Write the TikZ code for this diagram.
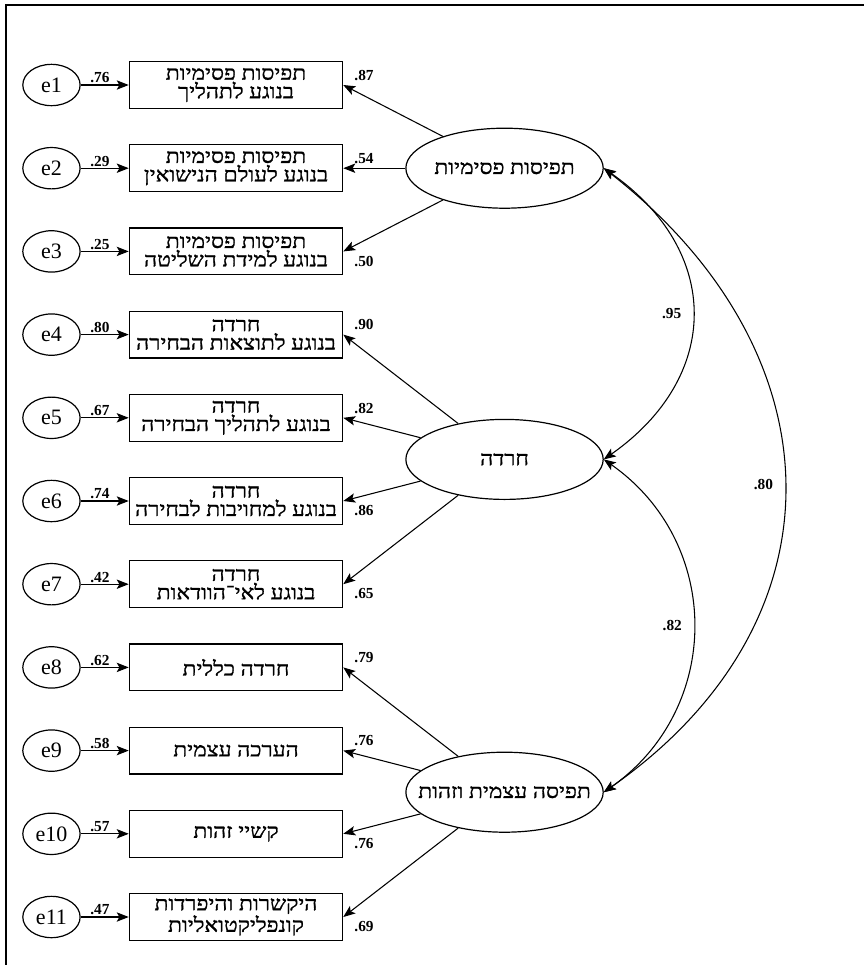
\documentclass[tikz,border=0pt]{standalone}
\usepackage{fontspec}
\usepackage{graphicx}
\setmainfont{Liberation Serif}
\newfontfamily\hebfont[Script=Hebrew,FakeBold=1.2]{Liberation Serif}
\TeXXeTstate=1
\usetikzlibrary{arrows.meta,positioning,calc,shapes.geometric}
\newcommand{\heb}[1]{\scalebox{1.14}[1]{\hebfont\beginR #1\endR}}

\begin{document}
\begin{tikzpicture}[
  node distance=26.5pt and 36pt,
  obs/.style={draw,line width=0.9pt,minimum width=160pt,minimum height=35pt,inner sep=1pt,align=center,font=\fontsize{15}{13.8}\selectfont},
  err/.style={draw,ellipse,line width=0.9pt,minimum width=43pt,minimum height=31pt,inner sep=0pt,font=\fontsize{16.5}{18}\selectfont},
  lat/.style={draw,ellipse,line width=0.9pt,minimum width=148pt,minimum height=60pt,inner sep=0pt,font=\fontsize{15}{16}\selectfont},
  arr/.style={-{Stealth[length=9pt,width=7pt,inset=2pt]},line width=0.8pt},
  cov/.style={{Stealth[length=9pt,width=7pt,inset=2pt]}-{Stealth[length=9pt,width=7pt,inset=2pt]},line width=0.8pt},
  coef/.style={font=\bfseries\fontsize{11.5}{13}\selectfont,inner sep=1pt},
  uplbl/.style={coef,at end,anchor=south west,xshift=7pt,yshift=2pt},
  dnlbl/.style={coef,at end,anchor=north west,xshift=7pt,yshift=-2pt},
  errlbl/.style={coef,above,pos=0.4,yshift=0pt}
]
\useasboundingbox (0,0) rectangle (648pt,-723.75pt);
\draw[line width=1.2pt] (4.5pt,-723.75pt) -- (4.5pt,-3.75pt) -- (648pt,-3.75pt);

% observed indicators
\node[obs] (b1) at (177pt,-63.75pt) {\heb{תפיסות פסימיות}\\\heb{בנוגע לתהליך}};
\node[obs,below=of b1] (b2) {\heb{תפיסות פסימיות}\\\heb{בנוגע לעולם הנישואין}};
\node[obs,below=of b2] (b3) {\heb{תפיסות פסימיות}\\\heb{בנוגע למידת השליטה}};
\node[obs,below=of b3] (b4) {\heb{חרדה}\\\heb{בנוגע לתוצאות הבחירה}};
\node[obs,below=of b4] (b5) {\heb{חרדה}\\\heb{בנוגע לתהליך הבחירה}};
\node[obs,below=of b5] (b6) {\heb{חרדה}\\\heb{בנוגע למחויבות לבחירה}};
\node[obs,below=of b6] (b7) {\heb{חרדה}\\\heb{בנוגע לאי־הוודאות}};
\node[obs,below=of b7] (b8) {\heb{חרדה כללית}};
\node[obs,below=of b8] (b9) {\heb{הערכה עצמית}};
\node[obs,below=of b9] (b10) {\heb{קשיי זהות}};
\node[obs,below=of b10] (b11) {\heb{היקשרות והיפרדות}\\\heb{קונפליקטואליות}};

% error terms
\node[err,left=of b1] (e1) {e1};
\node[err,left=of b2] (e2) {e2};
\node[err,left=of b3] (e3) {e3};
\node[err,left=of b4] (e4) {e4};
\node[err,left=of b5] (e5) {e5};
\node[err,left=of b6] (e6) {e6};
\node[err,left=of b7] (e7) {e7};
\node[err,left=of b8] (e8) {e8};
\node[err,left=of b9] (e9) {e9};
\node[err,left=of b10] (e10) {e10};
\node[err,left=of b11] (e11) {e11};
\draw[arr] (e1) -- node[errlbl]{.76} (b1);
\draw[arr] (e2) -- node[errlbl]{.29} (b2);
\draw[arr] (e3) -- node[errlbl]{.25} (b3);
\draw[arr] (e4) -- node[errlbl]{.80} (b4);
\draw[arr] (e5) -- node[errlbl]{.67} (b5);
\draw[arr] (e6) -- node[errlbl]{.74} (b6);
\draw[arr] (e7) -- node[errlbl]{.42} (b7);
\draw[arr] (e8) -- node[errlbl]{.62} (b8);
\draw[arr] (e9) -- node[errlbl]{.58} (b9);
\draw[arr] (e10) -- node[errlbl]{.57} (b10);
\draw[arr] (e11) -- node[errlbl]{.47} (b11);

% latent factors
\coordinate (m2) at ($(b5.east)!0.5!(b6.east)$);
\coordinate (m3) at ($(b9.east)!0.5!(b10.east)$);
\node[lat,right=46.5pt of b2] (f1) {\makebox[0pt]{\heb{תפיסות פסימיות}}};
\node[lat,right=46.5pt of m2] (f2) {\makebox[0pt]{\heb{חרדה}}};
\node[lat,right=46.5pt of m3] (f3) {\makebox[0pt]{\heb{תפיסה עצמית וזהות}}};

% loadings
\draw[arr] (f1) -- node[uplbl]{.87} (b1.east);
\draw[arr] (f1) -- node[uplbl]{.54} (b2.east);
\draw[arr] (f1) -- node[dnlbl]{.50} (b3.east);
\draw[arr] (f2) -- node[uplbl]{.90} (b4.east);
\draw[arr] (f2) -- node[uplbl]{.82} (b5.east);
\draw[arr] (f2) -- node[dnlbl]{.86} (b6.east);
\draw[arr] (f2) -- node[dnlbl]{.65} (b7.east);
\draw[arr] (f3) -- node[uplbl]{.79} (b8.east);
\draw[arr] (f3) -- node[uplbl]{.76} (b9.east);
\draw[arr] (f3) -- node[dnlbl]{.76} (b10.east);
\draw[arr] (f3) -- node[dnlbl]{.69} (b11.east);

% correlations
\draw[cov] (f1.east) to[out=-35,in=35,looseness=1.27] node[coef,left=7pt]{.95} (f2.east);
\draw[cov] (f2.east) to[out=-35,in=35,looseness=1.12] node[coef,left=7pt]{.82} (f3.east);
\draw[cov] (f1.east) to[out=-38,in=35,looseness=1.23] node[coef,left=7pt]{.80} (f3.east);
\end{tikzpicture}
\end{document}
